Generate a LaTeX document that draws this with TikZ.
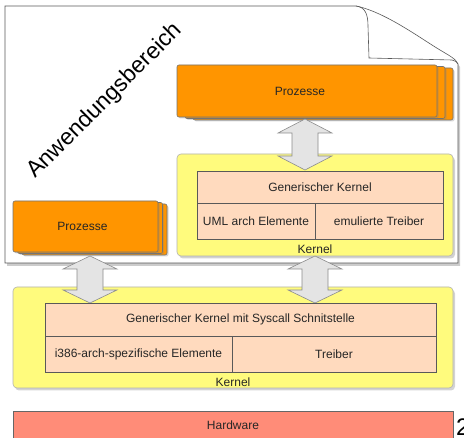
\documentclass[tikz,border=0pt]{standalone}
\usepackage{fontspec}
\setmainfont{Liberation Sans}
\usetikzlibrary{shadows}
\definecolor{orng}{RGB}{255,149,0}
\definecolor{kyel}{RGB}{255,251,125}
\definecolor{peach}{RGB}{255,218,190}
\definecolor{hw}{RGB}{255,140,120}
\definecolor{arr}{RGB}{228,228,228}
\newcommand\myDblArrow[5]{%
  % #1 name, #2 cx, #3 ytop, #4 ybottom, #5 head length
  \draw[dblarr] (#2,#3) coordinate (#1top) -- ({#2+27},{#3+#5}) -- ({#2+13},{#3+#5}) -- ({#2+13},{#4-#5}) -- ({#2+27},{#4-#5}) -- (#2,#4) coordinate (#1bot) -- ({#2-27},{#4-#5}) -- ({#2-13},{#4-#5}) -- ({#2-13},{#3+#5}) -- ({#2-27},{#3+#5}) -- cycle;}
\begin{document}
\begin{tikzpicture}[x=1pt,y=-1pt,
  txt/.style={font=\fontsize{12}{14}\selectfont, text=black!85},
  proc/.style={draw=black!55, fill=orng, rounded corners=2pt, line width=0.6pt, inner sep=0pt, outer sep=0pt, txt,
    drop shadow={opacity=0.3, shadow xshift=1.5pt, shadow yshift=-1.5pt}},
  kern/.style={draw=black!30, fill=kyel, rounded corners=4pt, line width=0.6pt, inner sep=0pt, outer sep=0pt,
    drop shadow={opacity=0.35, shadow xshift=2pt, shadow yshift=-2.5pt}},
  cell/.style={draw=black!65, fill=peach, line width=0.6pt, inner sep=0pt, outer sep=0pt, txt},
  hwbox/.style={draw=black!60, fill=hw, line width=0.6pt, inner sep=0pt, outer sep=0pt, txt},
  dblarr/.style={fill=arr, draw=black!45, line width=0.6pt},
  pageline/.style={draw=black!65, line width=0.6pt, fill=white}
]
\useasboundingbox (0,0) rectangle (464,438);

% page with curled corner
\path[pageline, drop shadow={opacity=0.4, shadow xshift=2pt, shadow yshift=-3pt}]
  (5,6) -- (356,6) .. controls (385,12) and (420,38) .. (440,50)
  .. controls (450,56) and (456,59) .. (458,64) -- (458,263) -- (5,263) -- cycle;
\draw[black!65, line width=0.6pt] (356,6) .. controls (365,7) and (368,14) .. (368,26)
  -- (369,58) -- (452,60) .. controls (455,60.5) and (457,62) .. (458,64);

\node[rotate=45, font=\fontsize{23}{26}\selectfont] (anw) at (105,101) {Anwendungsbereich};

% upper process stack
\node[proc, minimum width=260pt, minimum height=52pt] (pt3) at (323,94) {};
\node[proc, minimum width=260pt, minimum height=52pt] (pt2) at (315,92.5) {};
\node[proc, minimum width=260pt, minimum height=52pt] (pt1) at (307,91) {Prozesse\hspace*{14pt}};

% left process stack
\node[proc, minimum width=145pt, minimum height=51pt] (pl3) at (94.5,229.5) {};
\node[proc, minimum width=145pt, minimum height=51pt] (pl2) at (90,228) {};
\node[proc, minimum width=145pt, minimum height=51pt] (pl1) at (85.5,226.5) {Prozesse\hspace*{6pt}};

% upper kernel
\node[kern, minimum width=276pt, minimum height=102pt] (uk) at (315,205) {};
\node[txt] (ukl) at (315,249) {Kernel};

% lower kernel
\node[kern, minimum width=440pt, minimum height=101pt] (lk) at (233,337.5) {};
\node[txt] (lkl) at (233,382) {Kernel};

% hardware
\node[hwbox, minimum width=440pt, minimum height=29pt] (hw) at (233,425.5) {Hardware};
\node[anchor=west, inner sep=0pt, font=\fontsize{24}{26}\selectfont] (num) at (456,427) {2};

% arrows
\myDblArrow{a1}{305}{119}{170}{14}
\myDblArrow{a2}{90}{256}{303}{13}
\myDblArrow{a3}{315}{256}{303}{13}

% upper table
\node[cell, minimum width=246pt, minimum height=32pt] (gk) at (320,187) {Generischer Kernel};
\node[cell, minimum width=118pt, minimum height=36pt] (uml) at (256,221) {UML arch Elemente};
\node[cell, minimum width=128pt, minimum height=36pt] (emu) at (379,221) {emulierte Treiber};

% lower table
\node[cell, minimum width=391pt, minimum height=33pt] (gks) at (240.5,319.5) {Generischer Kernel mit Syscall Schnitstelle};
\node[cell, minimum width=187pt, minimum height=36pt] (i386) at (138.5,354) {i386-arch-spezifische Elemente};
\node[cell, minimum width=204pt, minimum height=36pt] (tr) at (334,354) {Treiber};
\end{tikzpicture}
\end{document}
